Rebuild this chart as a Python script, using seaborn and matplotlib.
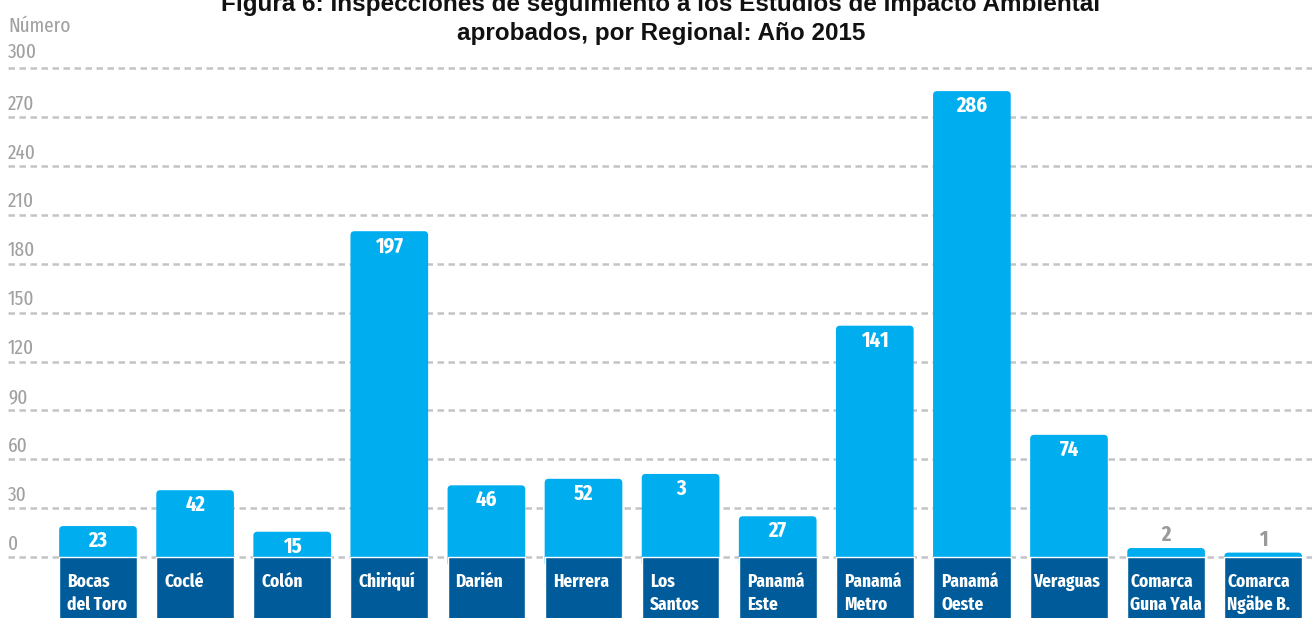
import matplotlib
matplotlib.use("Agg")
import matplotlib.pyplot as plt
import seaborn as sns
import pandas as pd
from matplotlib.patches import FancyBboxPatch

# ---- data ----
categories = ["Bocas\ndel Toro", "Coclé", "Colón", "Chiriquí", "Darién", "Herrera",
              "Los\nSantos", "Panamá\nEste", "Panamá\nMetro", "Panamá\nOeste",
              "Veraguas", "Comarca\nGuna Yala", "Comarca\nNgäbe B."]
bar_heights = [19, 41, 15.5, 200, 44, 48, 51, 25, 142, 286, 75, 5.5, 2.7]
value_labels = ["23", "42", "15", "197", "46", "52", "3", "27", "141", "286", "74", "2", "1"]
y_ticks = [0, 30, 60, 90, 120, 150, 180, 210, 240, 270, 300]
y_axis_title = "Número"
title_lines = ["Figura 6: Inspecciones de seguimiento a los Estudios de Impacto Ambiental",
               "aprobados, por Regional: Año 2015"]

# ---- style ----
LIGHT = "#00AEEF"
DARK = "#005B9A"
GRID = "#C4C4C8"
TICKC = "#A0A0A0"
NARROW = ["Fira Sans Extra Condensed", "DejaVu Sans"]
TIGHT = {"Veraguas", "Comarca\nGuna Yala", "Comarca\nNgäbe B."}  # labels set closer to the box edge

sns.set_theme(style="white")
plt.rcParams["font.family"] = ["Liberation Sans", "DejaVu Sans"]

W, H, DPI = 1312, 618, 100
fig = plt.figure(figsize=(W / DPI, H / DPI), dpi=DPI)
ax = fig.add_axes([0, 0, 1, 1])

# scales (pixel geometry of the reference)
px_per_unit = 488.7 / 300.0
x0_px, step_px = 98.0, 97.1
ylo = -61.0 / px_per_unit
yhi = 300 + 68.3 / px_per_unit
xlo = -x0_px / step_px
xhi = xlo + W / step_px

df = pd.DataFrame({"region": categories, "value": bar_heights})

# light bars (rounded tops)
sns.barplot(data=df, x="region", y="value", order=categories, color=LIGHT,
            saturation=1, width=0.8, ax=ax, zorder=2)
aspect = step_px / px_per_unit
r = 4.0 / step_px
ext = 6.0
for p in list(ax.patches):
    x, w, h = p.get_x(), p.get_width(), p.get_height()
    p.remove()
    fb = FancyBboxPatch((x, -ext), w, h + ext,
                        boxstyle=f"round,pad=0,rounding_size={r}",
                        mutation_aspect=aspect, fc=LIGHT, ec="none", zorder=2)
    ax.add_patch(fb)

# dark label boxes under the zero line
df_box = pd.DataFrame({"region": categories, "value": [ylo * 1.5] * len(categories)})
sns.barplot(data=df_box, x="region", y="value", order=categories, color=DARK,
            saturation=1, width=0.8, ax=ax, zorder=3)

ax.set_xlim(xlo, xhi)
ax.set_ylim(ylo, yhi)
ax.axis("off")

# dashed gridlines
gx0 = xlo + 8.0 / step_px
ax.hlines(y_ticks, gx0, xhi, colors=GRID, linewidth=1.8,
          linestyles=(0, (2.6, 1.8)), zorder=1)

# y tick labels
for t in y_ticks:
    off = 10 if t == y_ticks[-1] else 7.5
    ax.annotate(str(t), xy=(gx0, t), xytext=(0, off), textcoords="offset pixels",
                ha="left", va="baseline", fontsize=15, color=TICKC, family=NARROW)
ax.annotate(y_axis_title, xy=(gx0, y_ticks[-1]), xytext=(0, 36), textcoords="offset pixels",
            ha="left", va="baseline", fontsize=15, color=TICKC, family=NARROW)

# value labels and category labels
for i, (cat, h, lab) in enumerate(zip(categories, bar_heights, value_labels)):
    if h > 12:
        ax.annotate(lab, xy=(i, h), xytext=(0, -21), textcoords="offset pixels",
                    ha="center", va="baseline", fontsize=16, fontweight="bold",
                    color="white", family=NARROW, zorder=5)
    else:
        ax.annotate(lab, xy=(i, h), xytext=(0, 7), textcoords="offset pixels",
                    ha="center", va="baseline", fontsize=16, fontweight="bold",
                    color="#9A9A9A", family=NARROW, zorder=5)
    pad = 3 if cat in TIGHT else 8
    for k, line in enumerate(cat.split("\n")):
        ax.annotate(line, xy=(i - 0.4, 0), xytext=(pad, -30 - 23 * k),
                    textcoords="offset pixels", ha="left", va="baseline",
                    fontsize=13.5, fontweight="bold", color="white",
                    family=NARROW, zorder=5)

# title
fig.text(661 / W, 1 - 11 / H, title_lines[0], ha="center", va="baseline",
         fontsize=17.5, fontweight="bold", color="#111111")
fig.text(661 / W, 1 - 40 / H, title_lines[1], ha="center", va="baseline",
         fontsize=17.5, fontweight="bold", color="#111111")

fig.savefig("out.png", dpi=DPI)
